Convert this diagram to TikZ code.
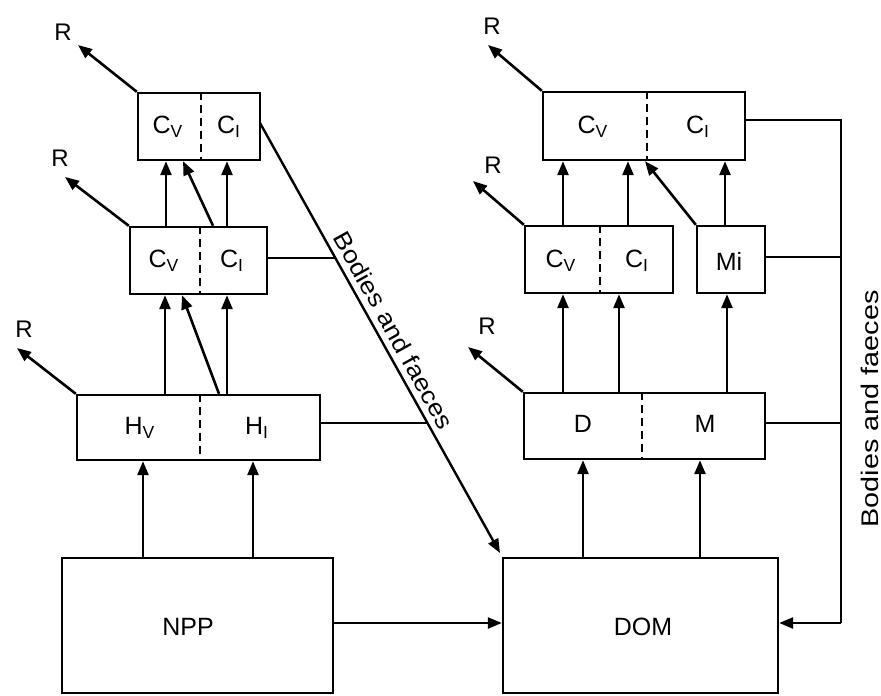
\documentclass[tikz,border=0pt]{standalone}
\usepackage{fontspec}
\setmainfont{Liberation Sans}
\usetikzlibrary{arrows.meta,fit}
\begin{document}
\begin{tikzpicture}[x=0.5pt,y=-0.5pt,
  box/.style={draw, line width=1.2pt, inner sep=0pt},
  divline/.style={line width=1pt, dash pattern=on 4pt off 2.5pt},
  arr/.style={line width=1.3pt, -{Triangle[length=7pt,width=5.5pt]}},
  ln/.style={line width=1.3pt},
  lab/.style={font=\fontsize{12.5}{14}\selectfont, inner sep=0pt},
  rlab/.style={font=\fontsize{12}{14}\selectfont, inner sep=0pt},
]
\useasboundingbox (0,0) rectangle (881,695);

% ---------- left column boxes ----------
\node[box, fit={(138,93) (260,160)}] (L1) {};
\node[box, fit={(130,227) (267,294)}] (L2) {};
\node[box, fit={(77,395) (320,460)}] (L3) {};
\node[box, fit={(62,558) (333,693)}] (NPP) {};

\draw[divline] (201,0 |- L1.north) -- (201,0 |- L1.south);
\draw[divline] (200,0 |- L2.north) -- (200,0 |- L2.south);
\draw[divline] (200,0 |- L3.north) -- (200,0 |- L3.south);

\node[lab] (l1v) at (168,127) {C\textsubscript{V}};
\node[lab] (l1i) at (229,127) {C\textsubscript{I}};
\node[lab] (l2v) at (164,261) {C\textsubscript{V}};
\node[lab] (l2i) at (232,261) {C\textsubscript{I}};
\node[lab] (l3v) at (140,428) {H\textsubscript{V}};
\node[lab] (l3i) at (257,428) {H\textsubscript{I}};
\node[lab] (nppt) at (188,627) {NPP};

% ---------- right column boxes ----------
\node[box, fit={(543,92) (745,160)}] (R1) {};
\node[box, fit={(525,226) (673,293)}] (R2a) {};
\node[box, fit={(697,226) (765,293)}] (R2b) {};
\node[box, fit={(524,393) (765,459)}] (R3) {};
\node[box, fit={(503,558) (778,693)}] (DOM) {};

\draw[divline] (647,0 |- R1.north) -- (647,0 |- R1.south);
\draw[divline] (600,0 |- R2a.north) -- (600,0 |- R2a.south);
\draw[divline] (642,0 |- R3.north) -- (642,0 |- R3.south);

\node[lab] (r1v) at (593,127) {C\textsubscript{V}};
\node[lab] (r1i) at (698,127) {C\textsubscript{I}};
\node[lab] (r2v) at (561,261) {C\textsubscript{V}};
\node[lab] (r2i) at (637,261) {C\textsubscript{I}};
\node[lab] (mit) at (729,261) {Mi};
\node[lab] (dt) at (583,424) {D};
\node[lab] (mt) at (705,424) {M};
\node[lab] (domt) at (643,627) {DOM};

% ---------- respiration arrows ----------
\coordinate (tR1) at (78,45);
\coordinate (tR2) at (65,177);
\coordinate (tR3) at (17,348);
\coordinate (tR4) at (488,45);
\coordinate (tR5) at (473,181);
\coordinate (tR6) at (468,347);
\draw[arr] (L1.north west) -- (tR1);
\draw[arr] (L2.north west) -- (tR2);
\draw[arr] (L3.north west) -- (tR3);
\draw[arr] (R1.north west) -- (tR4);
\draw[arr] (R2a.north west) -- (tR5);
\draw[arr] (R3.north west) -- (tR6);
\node[rlab] (R1t) at (63,32) {R};
\node[rlab] (R2t) at (60,158) {R};
\node[rlab] (R3t) at (24,329) {R};
\node[rlab] (R4t) at (492,26) {R};
\node[rlab] (R5t) at (493,165) {R};
\node[rlab] (R6t) at (487,326) {R};

% ---------- left column flows ----------
\draw[arr] (166,0 |- L2.north) -- (166,0 |- L1.south);
\draw[arr] (227,0 |- L2.north) -- (227,0 |- L1.south);
\draw[arr] (213,0 |- L2.north) -- (183,0 |- L1.south);
\draw[arr] (165,0 |- L3.north) -- (165,0 |- L2.south);
\draw[arr] (227,0 |- L3.north) -- (227,0 |- L2.south);
\draw[arr] (219,0 |- L3.north) -- (182,0 |- L2.south);
\draw[arr] (143,0 |- NPP.north) -- (143,0 |- L3.south);
\draw[arr] (253,0 |- NPP.north) -- (253,0 |- L3.south);

% ---------- right column flows ----------
\draw[arr] (563,0 |- R2a.north) -- (563,0 |- R1.south);
\draw[arr] (628,0 |- R2a.north) -- (628,0 |- R1.south);
\draw[arr] (725,0 |- R2b.north) -- (725,0 |- R1.south);
\draw[arr] (R2b.north west) -- (645,0 |- R1.south);
\draw[arr] (563,0 |- R3.north) -- (563,0 |- R2a.south);
\draw[arr] (619,0 |- R3.north) -- (619,0 |- R2a.south);
\draw[arr] (727,0 |- R3.north) -- (727,0 |- R2b.south);
\draw[arr] (583,0 |- DOM.north) -- (583,0 |- R3.south);
\draw[arr] (700,0 |- DOM.north) -- (700,0 |- R3.south);

% ---------- NPP to DOM ----------
\draw[arr] (NPP.east |- 0,623) -- (DOM.west |- 0,623);

% ---------- left bodies and faeces ----------
\coordinate (d0) at (260,123);
\coordinate (d1) at (500,553);
\coordinate (j1) at (335,258);
\coordinate (j2) at (428,423);
\draw[arr, line width=1.2pt] (d0) -- node[sloped, above=3pt, inner sep=0pt, font=\fontsize{12}{14}\selectfont] (bf1) {\scalebox{1.12}[1]{Bodies and faeces}} (d1);
\draw[ln] (L2.east |- j1) -- (j1);
\draw[ln] (L3.east |- j2) -- (j2);

% ---------- right bodies and faeces ----------
\coordinate (v0) at (841,120);
\coordinate (v1) at (841,623);
\draw[ln] (R1.east |- v0) -- (v0) -- (v1);
\draw[arr] (v1) -- (DOM.east |- v1);
\draw[ln] (R2b.east |- 0,257) -- (841,257);
\draw[ln] (R3.east |- 0,423) -- (841,423);
\node[rotate=90, inner sep=0pt, font=\fontsize{12}{14}\selectfont] (bf2) at (870,409) {\scalebox{1.2}[1]{Bodies and faeces}};

\end{tikzpicture}
\end{document}
